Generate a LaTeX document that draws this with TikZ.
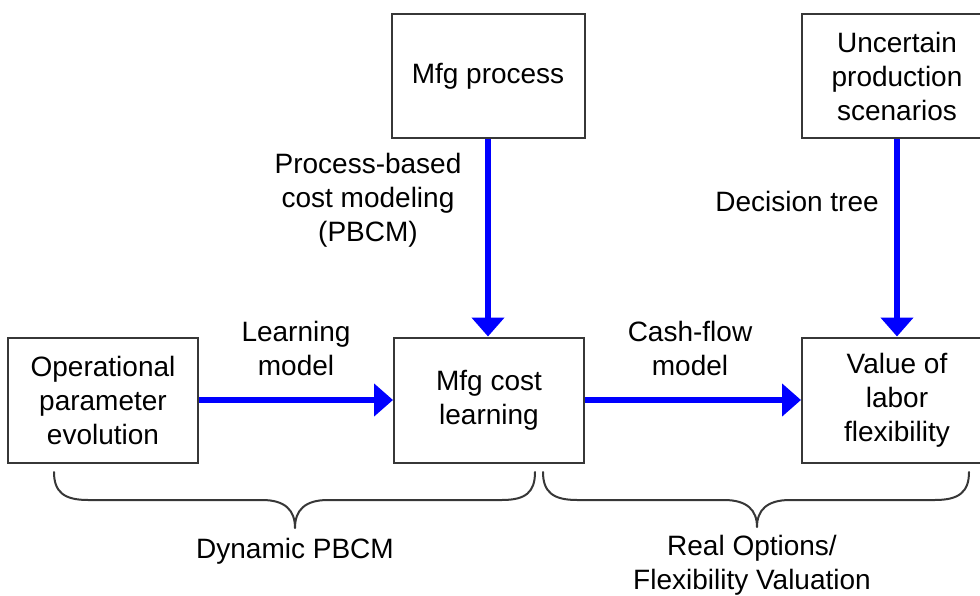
\documentclass[tikz,border=0pt]{standalone}
\usepackage{fontspec}
\setmainfont{Liberation Sans}
\usetikzlibrary{arrows.meta}
\definecolor{boxline}{RGB}{55,55,55}
\definecolor{flowblue}{RGB}{0,0,255}
\tikzset{
  every node/.style={font=\fontsize{28}{34}\selectfont, text=black},
  block/.style={draw=boxline, line width=2pt, fill=white, align=center,
                minimum width=190pt, minimum height=124pt, inner sep=0pt},
  caption/.style={align=center, inner sep=0pt},
  flow/.style={draw=flowblue, line width=6.5pt,
               -{Triangle[length=19pt,width=32pt]}},
  bracepath/.style={draw=boxline, line width=2pt, line cap=round, line join=round}
}
\begin{document}
\begin{tikzpicture}[x=1pt, y=-1pt]
  \useasboundingbox (0,0) rectangle (980,596);

  % boxes
  \node[block, minimum width=193pt] (proc) at (488,76) {Mfg process};
  \node[block] (scen) at (897,76) {Uncertain\\production\\scenarios};
  \node[block, minimum height=125pt] (oper) at (103,400) {Operational\\parameter\\evolution};
  \node[block, minimum height=125pt] (cost) at (489,400) {Mfg cost\\learning};
  \node[block, minimum height=125pt] (value) at (897,400) {Value of\\labor\\flexibility};

  % flows
  \draw[flow] (proc.south) -- (proc.south |- cost.north);
  \draw[flow] (scen.south) -- (value.north);
  \draw[flow] (oper.east) -- (cost.west);
  \draw[flow] (cost.east) -- (value.west);

  % flow labels
  \node[caption] (pbcm) at (368,200) {Process-based\\cost modeling\\(PBCM)};
  \node[caption] (dtree) at (797,201) {Decision tree};
  \node[caption] (learn) at (296,348) {Learning\\model};
  \node[caption] (cash) at (690,348) {Cash-flow\\model};

  % braces
  \draw[bracepath] (54,472) .. controls (54,492) and (64,500) .. (88,500)
    -- (262,500) .. controls (285,500) and (295,510) .. (295,528)
    .. controls (295,510) and (305,500) .. (328,500)
    -- (502,500) .. controls (526,500) and (535,492) .. (535,472);
  \draw[bracepath] (543,472) .. controls (543,492) and (553,500) .. (577,500)
    -- (724,500) .. controls (747,500) and (757,510) .. (757,527)
    .. controls (757,510) and (767,500) .. (790,500)
    -- (935,500) .. controls (959,500) and (969,492) .. (969,472);

  % group labels
  \node[caption] (dyn) at (295,551) {Dynamic PBCM};
  \node[caption] (real) at (752,565) {Real Options/\\Flexibility Valuation};
\end{tikzpicture}
\end{document}
